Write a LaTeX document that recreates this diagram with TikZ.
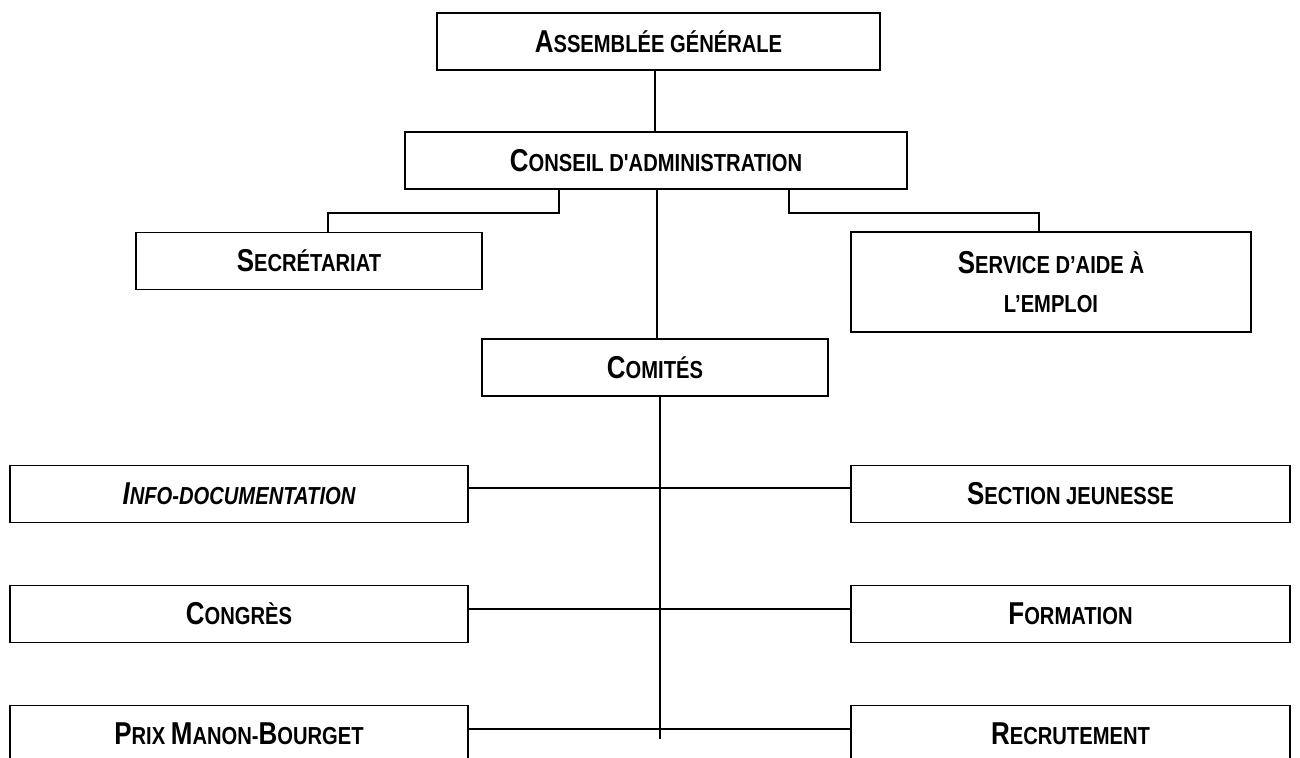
\documentclass[tikz,border=0pt]{standalone}
\usepackage{fontspec}
\setmainfont{Liberation Sans}[FakeStretch=0.82, Ligatures=TeXOff]
\usetikzlibrary{positioning}
% petites capitales
\newcommand{\pcap}[2]{{\fontsize{18}{22}\selectfont #1}{\fontsize{14}{17}\selectfont #2}}
\tikzset{
  boite/.style={draw, line width=1pt, rectangle, align=center, inner sep=0pt,
    minimum height=1.14cm, font=\bfseries\fontsize{14}{22}\selectfont},
  lien/.style={line width=1pt}
}

\begin{document}
\begin{tikzpicture}[x=0.02cm,y=-0.02cm]
  \useasboundingbox (0,0) rectangle (1300,757);

  \node[boite, minimum width=8.86cm] (ag) at (658.5,41.5) {\pcap{A}{SSEMBLÉE GÉNÉRALE}};
  \node[boite, minimum width=10.04cm] (ca) at (656,160.5) {\pcap{C}{ONSEIL D'ADMINISTRATION}};
  \node[boite, minimum width=6.92cm] (sec) at (309,261) {\pcap{S}{ECRÉTARIAT}};
  \node[boite, minimum width=8cm, minimum height=2cm] (sae) at (1051,282)
    {\pcap{S}{ERVICE D’AIDE À}\\\pcap{}{L’EMPLOI}};
  \node[boite, minimum width=6.92cm] (com) at (655,367.5) {\pcap{C}{OMITÉS}};

  % comites a gauche
  \node[boite, minimum width=9.16cm] (info) at (239,494) {\itshape\pcap{I}{NFO-DOCUMENTATION}};
  \node[boite, minimum width=9.16cm] (congres) at (239,614) {\pcap{C}{ONGRÈS}};
  \node[boite, minimum width=9.16cm] (prix) at (239,734) {\pcap{P}{RIX }\pcap{M}{ANON-}\pcap{B}{OURGET}};
  % comites a droite
  \node[boite, minimum width=8.78cm] (jeun) at (1070.5,494) {\pcap{S}{ECTION JEUNESSE}};
  \node[boite, minimum width=8.78cm] (form) at (1070.5,614) {\pcap{F}{ORMATION}};
  \node[boite, minimum width=8.78cm] (recr) at (1070.5,734) {\pcap{R}{ECRUTEMENT}};

  \coordinate (fin) at (660,739);

  \draw[lien] ([xshift=-0.07cm]ag.south) -- ([xshift=-0.07cm]ag.south |- ca.north);
  \draw[lien] ([xshift=-1.94cm]ca.south) -- ++(0,23) -| ([xshift=0.38cm]sec.north);
  \draw[lien] ([xshift=2.66cm]ca.south) -- ++(0,23) -| ([xshift=-0.24cm]sae.north);
  \draw[lien] ([xshift=0.02cm]ca.south) -- ([xshift=0.02cm]ca.south |- com.north);
  \draw[lien] (com.south -| fin) -- (fin);

  \draw[lien] ([yshift=0.12cm]info.east) -- ([yshift=0.12cm]jeun.west);
  \draw[lien] ([yshift=0.1cm]congres.east) -- ([yshift=0.1cm]form.west);
  \draw[lien] ([yshift=0.1cm]prix.east) -- ([yshift=0.1cm]recr.west);
\end{tikzpicture}
\end{document}
